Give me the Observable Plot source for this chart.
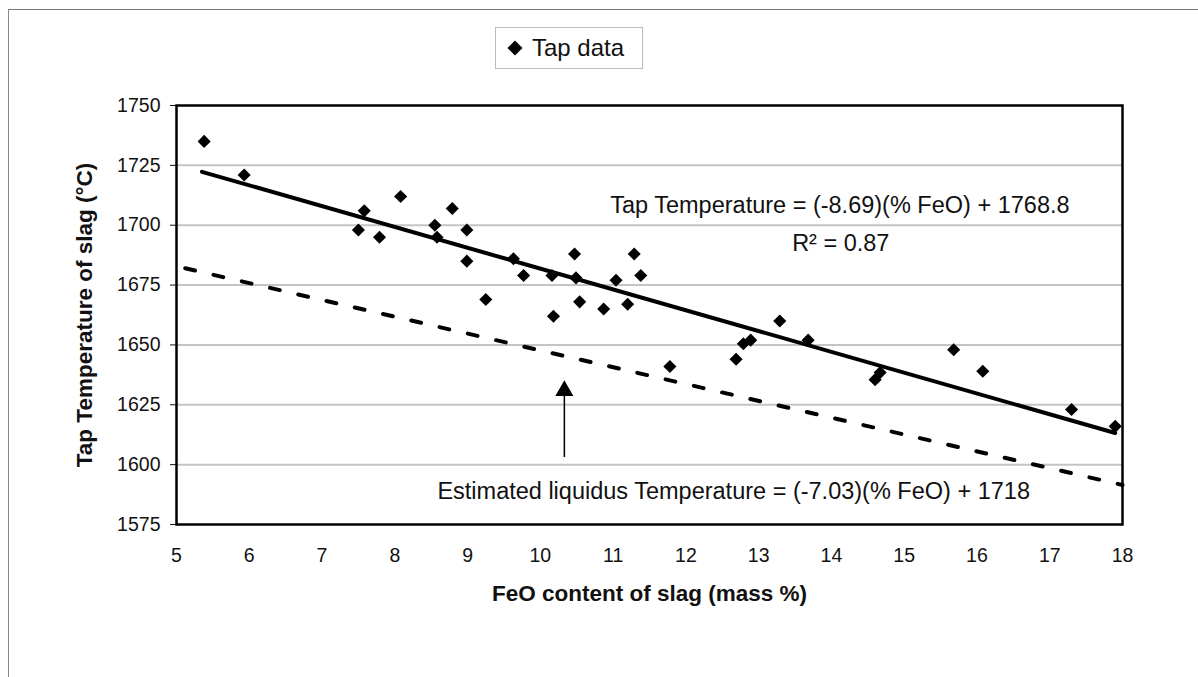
<!DOCTYPE html>
<html>
<head>
<meta charset="utf-8">
<script src="https://cdn.jsdelivr.net/npm/d3@7"></script>
<script src="https://cdn.jsdelivr.net/npm/@observablehq/plot@0.6"></script>
<style>
  html, body { margin: 0; padding: 0; background: #fff; }
  #wrap { position: relative; width: 1198px; height: 677px; overflow: hidden; font-family: "Liberation Sans", Arial, sans-serif; }
  #border { position: absolute; left: 8px; top: 9px; right: -2px; bottom: -2px; border-top: 1px solid #777; border-left: 1px solid #888; }
  #legend { position: absolute; left: 495px; top: 27px; width: 148px; height: 42px; border: 1px solid #bbb; background: #fff;
            display: flex; align-items: center; gap: 9px; padding-left: 11px; box-sizing: border-box; font-size: 24px; color: #111; }
  #chart { position: absolute; left: 0; top: 0; }
</style>
</head>
<body>
<div id="wrap">
  <div id="border"></div>
  <div id="chart"></div>
  <div id="legend"><svg width="16" height="16" viewBox="-8 -8 16 16"><polygon points="0,-7.5 7.5,0 0,7.5 -7.5,0" fill="#000"/></svg><span>Tap data</span></div>
</div>
<script>
// FeO content of slag (mass %)
const feo = [5.38, 5.93, 7.50, 7.58, 7.79, 8.08, 8.55, 8.58, 8.79, 8.99, 8.99, 9.25, 9.63, 9.77, 10.16, 10.18, 10.47, 10.49,
             10.54, 10.87, 11.04, 11.20, 11.29, 11.38, 11.78, 12.69, 12.79, 12.89, 13.29, 13.68, 14.60, 14.67, 15.68, 16.08, 17.30, 17.90];
// Tap temperature of slag (°C)
const tapTemp = [1735, 1721, 1698, 1706, 1695, 1712, 1700, 1695, 1707, 1698, 1685, 1669, 1686, 1679, 1679, 1662, 1688, 1678,
                 1668, 1665, 1677, 1667, 1688, 1679, 1641, 1644, 1650.5, 1652, 1660, 1652, 1635.5, 1638.5, 1648, 1639, 1623, 1616];

// Fitted tap temperature line end points
const fitFeo = [5.35, 17.9];
const fitTemp = [1722.3, 1613.2];
// Estimated liquidus temperature line end points
const liqFeo = [5.12, 18];
const liqTemp = [1682.0, 1591.5];

const xTicks = [5, 6, 7, 8, 9, 10, 11, 12, 13, 14, 15, 16, 17, 18];
const yTicks = [1575, 1600, 1625, 1650, 1675, 1700, 1725, 1750];
const gridTicks = [1600, 1625, 1650, 1675, 1700, 1725];

const xTitle = "FeO content of slag (mass %)";
const yTitle = "Tap Temperature of slag (°C)";

// Annotations
const annX = [10.96, 13.46, 8.585];
const annY = [1708.4, 1692.5, 1588.6];
const annText = ["Tap Temperature = (-8.69)(% FeO) + 1768.8", "R² = 0.87", "Estimated liquidus Temperature = (-7.03)(% FeO) + 1718"];

// Arrow pointing at the liquidus line
const arrowFeo = [10.33];
const arrowFrom = [1603];
const arrowTo = [1633];
const arrowTip = [1635.2];

const pts = feo.map((v, i) => ({x: v, y: tapTemp[i]}));
const fit = fitFeo.map((v, i) => ({x: v, y: fitTemp[i]}));
const liq = liqFeo.map((v, i) => ({x: v, y: liqTemp[i]}));
const ann = annText.map((t, i) => ({x: annX[i], y: annY[i], t}));

const chart = Plot.plot({
  width: 1198,
  height: 677,
  marginLeft: 176,
  marginRight: 76,
  marginTop: 105,
  marginBottom: 153,
  style: {fontFamily: "'Liberation Sans', Arial, sans-serif", fontSize: "19.5px", color: "#111", background: "transparent"},
  x: {domain: [5, 18], ticks: xTicks, tickSize: 0, tickPadding: 24, label: null, tickFormat: d => String(d)},
  y: {domain: [1575, 1750], ticks: yTicks, tickSize: 6, tickPadding: 10, label: null, tickFormat: d => String(d)},
  marks: [
    Plot.ruleY(gridTicks, {stroke: "#c4c4c4", strokeWidth: 2}),
    Plot.line(liq, {x: "x", y: "y", stroke: "#000", strokeWidth: 4, strokeDasharray: "10,19"}),
    Plot.line(fit, {x: "x", y: "y", stroke: "#000", strokeWidth: 4}),
    Plot.dot(pts, {x: "x", y: "y", symbol: "diamond2", r: 5.9, fill: "#000", stroke: "none"}),
    Plot.ruleX(arrowFeo, {x: d => d, y1: (d, i) => arrowFrom[i], y2: (d, i) => arrowTo[i], stroke: "#000", strokeWidth: 1.5}),
    Plot.dot(arrowFeo, {x: d => d, y: (d, i) => arrowTip[i], symbol: "triangle", r: 6.7, dy: 10.4, fill: "#000", stroke: "none"}),
    Plot.text(ann, {x: "x", y: "y", text: "t", textAnchor: "start", lineAnchor: "middle", fontSize: 23.5, fill: "#111"}),
    Plot.text([xTitle], {frameAnchor: "bottom", dy: 69, textAnchor: "middle", lineAnchor: "middle", fontWeight: "bold", fontSize: 22.5, fill: "#111"}),
    Plot.text([yTitle], {frameAnchor: "left", dx: -92, rotate: -90, textAnchor: "middle", lineAnchor: "middle", fontWeight: "bold", fontSize: 22.5, fill: "#111"}),
    Plot.frame({stroke: "#000", strokeWidth: 2.5})
  ]
});
document.getElementById("chart").appendChild(chart);
</script>
</body>
</html>
